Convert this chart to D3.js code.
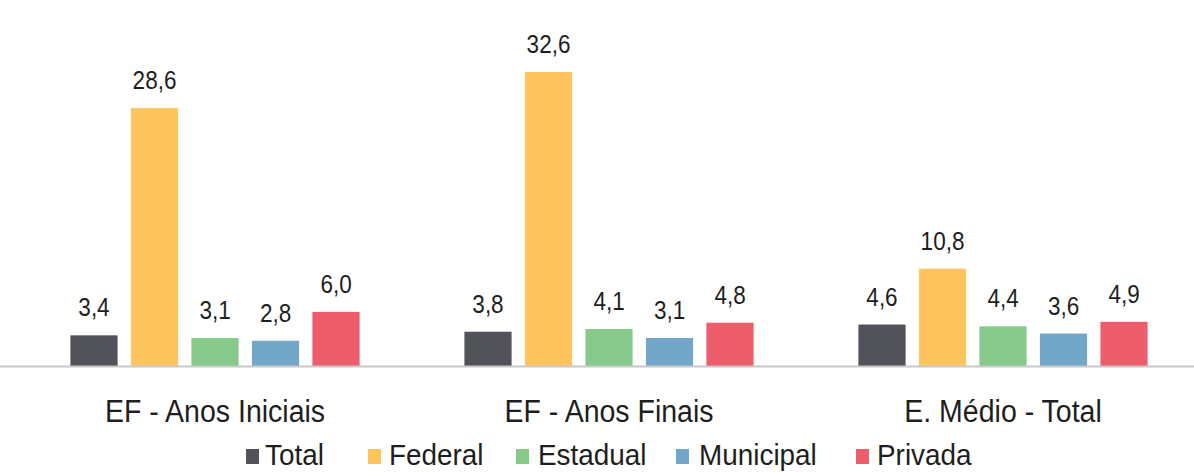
<!DOCTYPE html>
<html lang="pt">
<head>
<meta charset="UTF-8">
<script src="https://d3js.org/d3.v7.min.js"></script>
<style>
  body { margin: 0; background: #fff; }
  text { font-family: "Liberation Sans", Arial, sans-serif; fill: #1e1e1e; }
</style>
</head>
<body>
<svg width="1194" height="472"></svg>
<script>
// data
const categories = ["EF - Anos Iniciais", "EF - Anos Finais", "E. Médio - Total"];
const series = ["Total", "Federal", "Estadual", "Municipal", "Privada"];
const colors = ["#525259", "#fec55e", "#86c98a", "#72a7c9", "#ee5d6b"];
const values = {
  "Total":     [3.4, 3.8, 4.6],
  "Federal":   [28.6, 32.6, 10.8],
  "Estadual":  [3.1, 4.1, 4.4],
  "Municipal": [2.8, 3.1, 3.6],
  "Privada":   [6.0, 4.8, 4.9]
};

const svg = d3.select("svg");
const baseY = 366;

const x0 = d3.scaleBand().domain(categories).range([18, 1200])
  .paddingInner(0.266).paddingOuter(0.133);
const x1 = d3.scaleBand().domain(series).range([0, x0.bandwidth()])
  .paddingInner(0.22);
const y = d3.scaleLinear().domain([0, 32.6]).range([baseY, 72]);
const color = d3.scaleOrdinal().domain(series).range(colors);
const fmt = v => v.toFixed(1).replace(".", ",");

// narrow look: draw text squeezed horizontally
const squeeze = (x, yy, sx) => `translate(${x},${yy}) scale(${sx},1)`;

const groups = svg.append("g").selectAll("g")
  .data(categories).enter().append("g")
  .attr("transform", d => `translate(${x0(d)},0)`);

groups.each(function(cat, ci) {
  const g = d3.select(this);
  const rows = series.map(s => ({ s, v: values[s][ci] }));
  g.selectAll("rect").data(rows).enter().append("rect")
    .attr("x", d => x1(d.s))
    .attr("y", d => y(d.v))
    .attr("width", x1.bandwidth())
    .attr("height", d => baseY - y(d.v))
    .attr("fill", d => color(d.s));
  g.selectAll("text.val").data(rows).enter().append("text")
    .attr("class", "val")
    .attr("transform", d => squeeze(x1(d.s) + x1.bandwidth() / 2, y(d.v) - 19, 0.9))
    .attr("text-anchor", "middle")
    .attr("font-size", 25)
    .text(d => fmt(d.v));
});

// baseline
svg.append("line")
  .attr("x1", 0).attr("x2", 1194)
  .attr("y1", baseY + 0.5).attr("y2", baseY + 0.5)
  .attr("stroke", "#c8c8c8").attr("stroke-width", 2);

// category labels
svg.append("g").selectAll("text")
  .data(categories).enter().append("text")
  .attr("transform", d => squeeze(x0(d) + x0.bandwidth() / 2, 422, 0.92))
  .attr("text-anchor", "middle")
  .attr("font-size", 31)
  .text(d => d);

// legend
const legSq = [246, 368, 516, 676, 856];
const legTx = [265, 389, 538, 699, 877];
const leg = svg.append("g").selectAll("g")
  .data(series).enter().append("g");
leg.append("rect")
  .attr("x", (d, i) => legSq[i]).attr("y", 449)
  .attr("width", 13).attr("height", 15)
  .attr("fill", d => color(d));
leg.append("text")
  .attr("transform", (d, i) => squeeze(legTx[i], 465, 0.93))
  .attr("font-size", 30)
  .text(d => d);
</script>
</body>
</html>
